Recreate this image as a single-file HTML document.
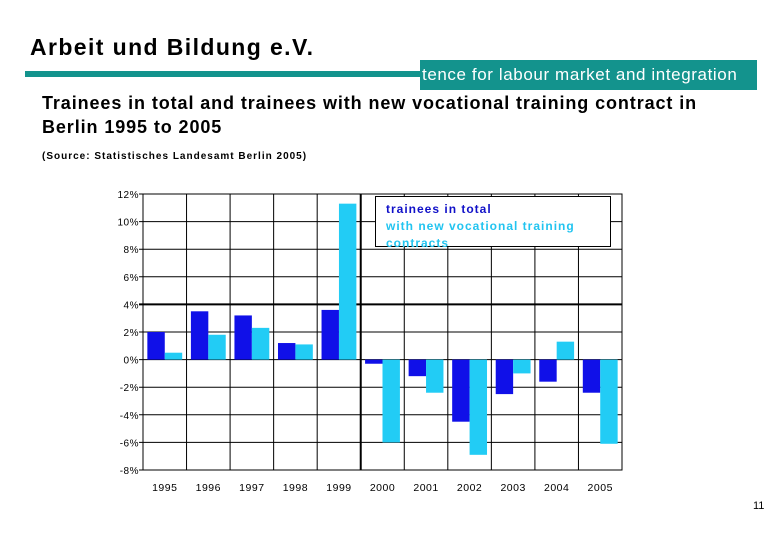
<!DOCTYPE html>
<html><head><meta charset="utf-8"><style>
body{margin:0;width:780px;height:540px;background:#fff;font-family:"Liberation Sans",Arial,sans-serif;position:relative;overflow:hidden}
.a{position:absolute}
</style></head><body>
<div class="a" style="left:30px;top:34px;font-size:23px;font-weight:bold;letter-spacing:1.4px;color:#000;white-space:nowrap">Arbeit und Bildung e.V.</div>
<div class="a" style="left:25px;top:71px;width:400px;height:6px;background:#13938d"></div>
<div class="a" style="left:420px;top:60px;width:337px;height:30px;background:#13938d;color:#fff;font-size:17px;letter-spacing:0.6px;line-height:30px;padding-left:2px;box-sizing:border-box;white-space:nowrap;overflow:hidden">tence for labour market and integration</div>
<div class="a" style="left:42px;top:91px;font-size:18px;font-weight:bold;letter-spacing:0.9px;line-height:24px;width:720px;white-space:nowrap">Trainees in total and trainees with new vocational training contract in<br>Berlin 1995 to 2005</div>
<div class="a" style="left:42px;top:151px;font-size:10px;font-weight:bold;letter-spacing:1px;white-space:nowrap">(Source: Statistisches Landesamt Berlin 2005)</div>
<svg class="a" style="left:0;top:0" width="780" height="540">
<g id="g"></g>
</svg>
<div class="a" style="left:375px;top:196px;width:236px;height:51px;border:1px solid #000;background:#fff;box-sizing:border-box;font-size:12px;font-weight:bold;letter-spacing:1px;line-height:17px;padding:4px 0 0 10px;overflow:visible;white-space:nowrap">
<div style="color:#1010c8">trainees in total</div>
<div style="color:#22c4f0">with new vocational training<br>contracts</div>
</div>
<div class="a" style="left:753px;top:500px;font-size:11px">11</div>
<script>
const years=["1995","1996","1997","1998","1999","2000","2001","2002","2003","2004","2005"];
const totalVals=[2.0,3.5,3.2,1.2,3.6,-0.3,-1.2,-4.5,-2.5,-1.6,-2.4];
const newVals=[0.5,1.8,2.3,1.1,11.3,-6.0,-2.4,-6.9,-1.0,1.3,-6.1];
const yTicks=[12,10,8,6,4,2,0,-2,-4,-6,-8];
const L=143,R=622,T=194,B=470,ymin=-8,ymax=12;
const y=v=>T+(ymax-v)/(ymax-ymin)*(B-T);
const cw=(R-L)/years.length;
const x=i=>L+i*cw;
const g=document.getElementById('g');const NS='http://www.w3.org/2000/svg';
function mk(t,a){const e=document.createElementNS(NS,t);for(const k in a)e.setAttribute(k,a[k]);g.appendChild(e);return e;}
let e=mk('rect',{x:L,y:T,width:R-L,height:B-T,fill:'#fff',stroke:'#000','stroke-width':1});


yTicks.forEach(t=>{
 let l=mk('line',{x1:L-4,x2:R,y1:y(t),y2:y(t),stroke:'#000','stroke-width':t===4?2:1});
 
 
 let tx=mk('text',{x:L-4,y:y(t)+4,'text-anchor':'end','font-size':10,'letter-spacing':0.5,fill:'#000'});tx.textContent=t+'%';
 
 
});
years.forEach((yr,i)=>{
 if(i>0){let l=mk('line',{x1:x(i),x2:x(i),y1:T,y2:B,stroke:'#000','stroke-width':i===5?2:1});
 
 }
 const bw=cw*0.4,x0=x(i)+cw*0.1;
 let a=totalVals[i],b=newVals[i];
 let r1=mk('rect',{x:x0,y:Math.min(y(a),y(0)),width:bw,height:Math.abs(y(a)-y(0)),fill:'#1010e8'});
 
 
 let r2=mk('rect',{x:x0+bw,y:Math.min(y(b),y(0)),width:bw,height:Math.abs(y(b)-y(0)),fill:'#22ccf5'});
 
 
 let tx=mk('text',{x:x(i)+cw/2,y:B+21,'text-anchor':'middle','font-size':10.5,'letter-spacing':0.5,fill:'#000'});tx.textContent=yr;
 
 
});
</script>
</body></html>
